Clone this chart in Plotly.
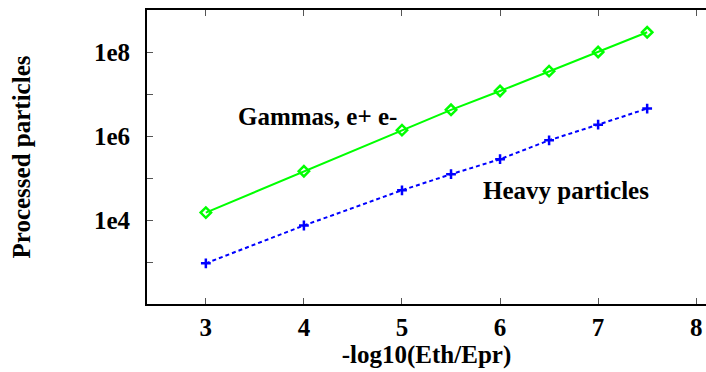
import plotly.graph_objects as go

x_vals = [3, 4, 5, 5.5, 6, 6.5, 7, 7.5]
gammas = [1.5e4, 1.45e5, 1.38e6, 4.2e6, 1.18e7, 3.5e7, 1.0e8, 2.95e8]
heavy = [930, 7400, 5.1e4, 1.23e5, 2.8e5, 7.9e5, 1.86e6, 4.5e6]

y_tickvals = [1e3, 1e4, 1e5, 1e6, 1e7, 1e8]
y_ticktext = ["", "1e4", "", "1e6", "", "1e8"]
x_tickvals = [3, 4, 5, 6, 7, 8]

FONT = dict(family="Liberation Serif", size=25, color="black", weight="bold")

fig = go.Figure()
fig.add_trace(go.Scatter(
    x=x_vals, y=gammas, mode="lines+markers",
    line=dict(color="#00ff00", width=2),
    marker=dict(symbol="diamond-open", size=8, color="#00ff00", line=dict(width=2.5, color="#00ff00")),
    showlegend=False))
fig.add_trace(go.Scatter(
    x=x_vals, y=heavy, mode="lines+markers",
    line=dict(color="#0000ff", width=2, dash="4px,3px"),
    marker=dict(symbol="cross-thin-open", size=7, color="#0000ff", line=dict(width=2.5, color="#0000ff")),
    showlegend=False))

fig.add_annotation(x=3.31, y=6.46, xref="x", yref="y", text="Gammas, e+ e-",
                   showarrow=False, xanchor="left", yanchor="middle", font=FONT)
fig.add_annotation(x=5.81, y=4.70, xref="x", yref="y", text="Heavy particles",
                   showarrow=False, xanchor="left", yanchor="middle", font=FONT)

fig.update_layout(
    width=706, height=372,
    margin=dict(l=147, r=0, t=10, b=68),
    paper_bgcolor="white", plot_bgcolor="white",
    font=FONT,
)
fig.update_xaxes(
    range=[2.4, 8.1], tickvals=x_tickvals, ticks="inside", ticklen=6,
    tickcolor="#555555", tickwidth=1, showline=True, linecolor="black", linewidth=2,
    mirror="ticks", showgrid=False, zeroline=False, tickfont=FONT,
    title=dict(text="-log10(Eth/Epr)", font=FONT, standoff=0),
)
fig.update_yaxes(
    type="log", range=[2, 9], tickvals=y_tickvals, ticktext=y_ticktext,
    ticks="inside", ticklen=6, tickcolor="#555555", tickwidth=1,
    showline=True, linecolor="black", linewidth=2, mirror=False,
    showgrid=False, zeroline=False, tickfont=FONT, ticklabelstandoff=10,
    title=dict(text="Processed particles", font=FONT, standoff=56),
)

fig.write_html("out.html")
